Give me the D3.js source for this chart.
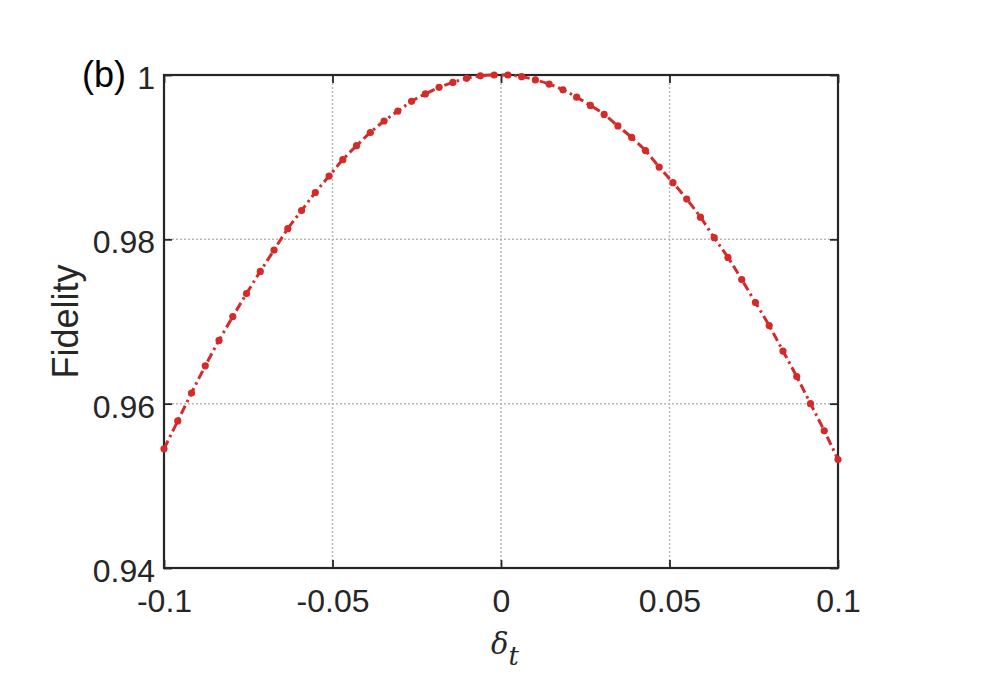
<!DOCTYPE html>
<html><head><meta charset="utf-8">
<script src="https://cdn.jsdelivr.net/npm/d3@7"></script>
<style>body{margin:0;background:#fff;} svg{display:block;}</style>
</head><body>
<svg id="c" width="981" height="694"></svg>
<script>
const xTicks = [-0.1, -0.05, 0, 0.05, 0.1];
const xTickLabels = ["-0.1", "-0.05", "0", "0.05", "0.1"];
const yTicks = [0.94, 0.96, 0.98, 1];
const yTickLabels = ["0.94", "0.96", "0.98", "1"];
const deltaT = d3.range(50).map(i => -0.1 + i * 0.2 / 49);
const fidelity = [
  0.9545, 0.9579, 0.9613, 0.9646, 0.9677, 0.9706, 0.9734, 0.9761, 0.9787, 0.9813,
  0.9835, 0.9857, 0.9877, 0.9897, 0.9914, 0.9930, 0.9944, 0.9956, 0.9968, 0.9977,
  0.9985, 0.9991, 0.9996, 0.9999, 1.0000, 1.0000, 0.9998, 0.9994, 0.9989, 0.9982,
  0.9973, 0.9963, 0.9952, 0.9938, 0.9924, 0.9908, 0.9888, 0.9869, 0.9849, 0.9827,
  0.9802, 0.9778, 0.9751, 0.9723, 0.9695, 0.9664, 0.9633, 0.9600, 0.9567, 0.9532
];

const L = 164, R = 838, T = 75, B = 568;
const svg = d3.select("#c");
const x = d3.scaleLinear().domain([-0.1, 0.1]).range([L, R]);
const y = d3.scaleLinear().domain([0.94, 1]).range([B, T]);
const font = "'Liberation Sans', Arial, Helvetica, sans-serif";
const txt = "#262626";
const red = "#d42a2a";

// grid
const grid = svg.append("g");
grid.selectAll("line.gx").data(xTicks.slice(1, -1)).enter().append("line")
  .attr("x1", d => x(d)).attr("x2", d => x(d)).attr("y1", T).attr("y2", B)
  .attr("stroke", "#b8b8b8").attr("stroke-width", 1.5).attr("stroke-dasharray", "2,2");
grid.selectAll("line.gy").data(yTicks.slice(1, -1)).enter().append("line")
  .attr("y1", d => y(d)).attr("y2", d => y(d)).attr("x1", L).attr("x2", R)
  .attr("stroke", "#b8b8b8").attr("stroke-width", 1.5).attr("stroke-dasharray", "2,2");

// axes with inward ticks
const tickLen = 8;
const axB = svg.append("g").attr("transform", `translate(0,${B})`)
  .call(d3.axisBottom(x).tickValues(xTicks).tickSizeInner(-tickLen).tickSizeOuter(0).tickPadding(21)
    .tickFormat((d, i) => xTickLabels[i]));
const axT = svg.append("g").attr("transform", `translate(0,${T})`)
  .call(d3.axisTop(x).tickValues(xTicks).tickSizeInner(-tickLen).tickSizeOuter(0).tickFormat(""));
const axL = svg.append("g").attr("transform", `translate(${L},0)`)
  .call(d3.axisLeft(y).tickValues(yTicks).tickSizeInner(-tickLen).tickSizeOuter(0).tickPadding(9)
    .tickFormat((d, i) => yTickLabels[i]));
const axR = svg.append("g").attr("transform", `translate(${R},0)`)
  .call(d3.axisRight(y).tickValues(yTicks).tickSizeInner(-tickLen).tickSizeOuter(0).tickFormat(""));
[axB, axT, axL, axR].forEach(a => {
  a.selectAll(".domain").remove();
  a.selectAll(".tick line").attr("stroke", txt).attr("stroke-width", 1.8);
  a.selectAll(".tick text").attr("fill", txt).style("font-family", font).style("font-size", "32px");
});
axB.selectAll(".tick text").attr("dy", "0.71em");
axL.selectAll(".tick text").attr("dy", "0.42em");

// box
svg.append("rect").attr("x", L).attr("y", T).attr("width", R - L).attr("height", B - T)
  .attr("fill", "none").attr("stroke", txt).attr("stroke-width", 2.2);

// data line
const pts = deltaT.map((d, i) => [d, fidelity[i]]);
svg.append("path").datum(pts)
  .attr("d", d3.line().x(d => x(d[0])).y(d => y(d[1])).curve(d3.curveMonotoneX))
  .attr("fill", "none").attr("stroke", red).attr("stroke-width", 3)
  .attr("stroke-dasharray", "9,4,2.5,4");
svg.append("g").selectAll("circle").data(pts).enter().append("circle")
  .attr("cx", d => x(d[0])).attr("cy", d => y(d[1])).attr("r", 3.6)
  .attr("fill", red);

// labels
svg.append("text").attr("transform", `translate(78,${(T + B) / 2}) rotate(-90)`)
  .attr("text-anchor", "middle").attr("fill", txt)
  .style("font-family", font).style("font-size", "36px").text("Fidelity");
const xl = svg.append("text").attr("x", 505).attr("y", 654).attr("text-anchor", "middle")
  .attr("fill", txt).style("font-family", "'DejaVu Serif', 'Liberation Serif', serif").style("font-size", "29px")
  .style("font-style", "italic");
xl.append("tspan").text("δ");
xl.append("tspan").attr("dy", 11).style("font-size", "26px").text("t");
svg.append("text").attr("x", 82).attr("y", 87).attr("fill", "#000")
  .style("font-family", font).style("font-size", "36px").text("(b)");
</script>
</body></html>
